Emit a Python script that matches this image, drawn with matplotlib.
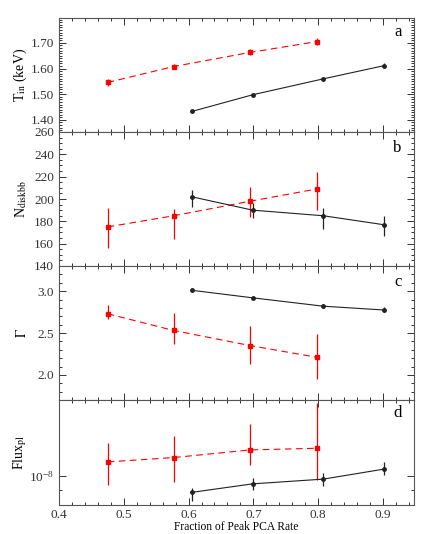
import matplotlib
matplotlib.use('Agg')
import matplotlib.pyplot as plt
from matplotlib.ticker import MultipleLocator, NullFormatter, LogLocator

plt.rcParams['font.family'] = ['Liberation Serif', 'DejaVu Serif']
plt.rcParams['mathtext.fontset'] = 'stix'

# dados
x_red = [0.475, 0.577, 0.695, 0.798]
x_blk = [0.605, 0.699, 0.808, 0.901]

tin_red = [1.546, 1.608, 1.663, 1.705]
tin_red_err = [0.013, 0.010, 0.012, 0.014]
tin_blk = [1.433, 1.498, 1.560, 1.611]
tin_blk_err = [0.006, 0.006, 0.007, 0.009]

ndisk_red = [175, 185, 198, 209]
ndisk_red_lo = [156, 164, 184, 190]
ndisk_red_hi = [192, 191, 211, 224]
ndisk_blk = [202, 190, 185, 177]
ndisk_blk_lo = [193, 183, 173, 167]
ndisk_blk_hi = [208, 196, 192, 185]

gam_red = [2.73, 2.53, 2.35, 2.21]
gam_red_lo = [2.67, 2.37, 2.13, 1.95]
gam_red_hi = [2.83, 2.74, 2.58, 2.49]
gam_blk = [3.01, 2.92, 2.82, 2.775]
gam_blk_err = [0.015, 0.015, 0.02, 0.03]

flux_red = [1.116e-8, 1.154e-8, 1.224e-8, 1.24e-8]
flux_red_lo = [0.935e-8, 0.952e-8, 1.091e-8, 0.967e-8]
flux_red_hi = [1.295e-8, 1.364e-8, 1.496e-8, 1.76e-8]
flux_blk = [0.882e-8, 0.942e-8, 0.977e-8, 1.055e-8]
flux_blk_lo = [0.827e-8, 0.90e-8, 0.93e-8, 1.01e-8]
flux_blk_hi = [0.909e-8, 0.982e-8, 1.028e-8, 1.116e-8]

fig = plt.figure(figsize=(4.32, 5.34), dpi=100)
L, W = 59/432, 355/432
bordas = [(18, 132), (132, 266), (266, 400), (400, 505)]
axs = [fig.add_axes([L, 1 - b/534, W, (b - t)/534]) for t, b in bordas]


def desenha(ax, yr, eyr, yb, eyb):
    ax.errorbar(x_red, yr, yerr=eyr, color='red', ls=(0, (6, 4)), lw=0.8,
                marker='s', ms=2.5, elinewidth=0.9, capsize=0)
    ax.errorbar(x_blk, yb, yerr=eyb, color='#222222', ls='-', lw=0.8,
                marker='o', ms=2.5, elinewidth=0.9, capsize=0)


def assimetrico(v, lo, hi):
    return [[a - b for a, b in zip(v, lo)], [b - a for a, b in zip(v, hi)]]


desenha(axs[0], tin_red, tin_red_err, tin_blk, tin_blk_err)
desenha(axs[1], ndisk_red, assimetrico(ndisk_red, ndisk_red_lo, ndisk_red_hi),
        ndisk_blk, assimetrico(ndisk_blk, ndisk_blk_lo, ndisk_blk_hi))
desenha(axs[2], gam_red, assimetrico(gam_red, gam_red_lo, gam_red_hi),
        gam_blk, gam_blk_err)
desenha(axs[3], flux_red, assimetrico(flux_red, flux_red_lo, flux_red_hi),
        flux_blk, assimetrico(flux_blk, flux_blk_lo, flux_blk_hi))

axs[0].set_ylim(1.353, 1.797)
axs[0].yaxis.set_major_locator(MultipleLocator(0.1))
axs[0].yaxis.set_minor_locator(MultipleLocator(0.01))
axs[0].yaxis.set_major_formatter(plt.FormatStrFormatter('%.2f'))

axs[1].set_ylim(140, 260)
axs[1].yaxis.set_major_locator(MultipleLocator(20))
axs[1].yaxis.set_minor_locator(MultipleLocator(5))

axs[2].set_ylim(1.70, 3.30)
axs[2].yaxis.set_major_locator(MultipleLocator(0.5))
axs[2].yaxis.set_minor_locator(MultipleLocator(0.1))
axs[2].yaxis.set_major_formatter(plt.FormatStrFormatter('%.1f'))

axs[3].set_yscale('log')
axs[3].set_ylim(0.8e-8, 1.8e-8)
axs[3].yaxis.set_major_locator(LogLocator(base=10))
axs[3].yaxis.set_minor_locator(LogLocator(base=10, subs=range(2, 10)))
axs[3].yaxis.set_minor_formatter(NullFormatter())

rotulos = [r'T$_{\rm in}$ (keV)', r'N$_{\rm diskbb}$', r'$\Gamma$', r'Flux$_{\rm pl}$']
letras = ['a', 'b', 'c', 'd']
for ax, rot, let in zip(axs, rotulos, letras):
    ax.set_xlim(0.4, 0.948)
    ax.xaxis.set_major_locator(MultipleLocator(0.1))
    ax.xaxis.set_minor_locator(MultipleLocator(0.02))
    ax.tick_params(which='both', direction='in', top=True, right=True,
                   labelsize=9.5, colors='#333333', width=0.7)
    ax.tick_params(which='major', length=5)
    ax.tick_params(which='minor', length=2.5)
    for s in ax.spines.values():
        s.set_color('#555555')
        s.set_linewidth(0.8)
    ax.set_ylabel(rot, fontsize=10)
    ax.yaxis.set_label_coords(-0.085, 0.5)
    ax.text(0.965, 0.88, let, transform=ax.transAxes, fontsize=12,
            ha='right', va='center')
    if ax is not axs[-1]:
        ax.tick_params(labelbottom=False)

axs[-1].tick_params(axis='x', pad=3)
axs[-1].set_xlabel('Fraction of Peak PCA Rate', fontsize=8.3, labelpad=0)

fig.savefig('out.png', dpi=100)
